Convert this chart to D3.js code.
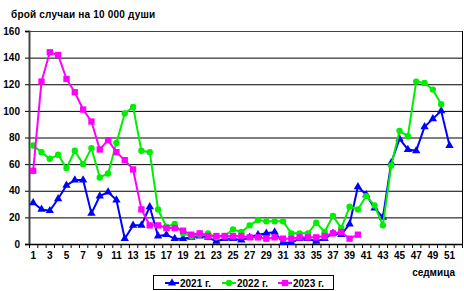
<!DOCTYPE html>
<html>
<head>
<meta charset="utf-8">
<script src="https://cdn.jsdelivr.net/npm/d3@7"></script>
<style>
  body { margin: 0; background: #fff; }
  text { font-family: "Liberation Sans", Arial, sans-serif; font-weight: bold; font-size: 10px; fill: #000; }
</style>
</head>
<body>
<svg id="chart" width="464" height="291"></svg>
<script>
// weekly incidence per 10 000 people
const weeks = d3.range(1, 53);
const yTicks = [0, 20, 40, 60, 80, 100, 120, 140, 160];

const cases2021 = [31, 26, 25, 34, 44, 48, 48, 23, 36, 39,
                   33, 4, 14, 14, 28, 6, 7, 4, 4, 5,
                   6, 5, 2, 4, 4, 3, 5, 7, 8, 9,
                   1, 1, 4, 4, 2, 4, 8, 7, 15, 43,
                   37, 27, 20, 61, 79, 71, 70, 88, 94, 100, 74];
const cases2022 = [74, 69, 64, 67, 57, 70, 60, 72, 50, 53,
                   76, 98, 103, 70, 69, 26, 13, 15, 8, 6,
                   7, 8, 5, 6, 11, 9, 14, 18, 17, 17,
                   17, 8, 8, 8, 16, 9, 21, 12, 28, 26,
                   36, 29, 14, 59, 85, 81, 122, 121, 116, 105];
const cases2023 = [55, 122, 144, 142, 124, 114, 101, 92, 71, 78,
                   69, 63, 56, 26, 14, 14, 12, 12, 10, 7,
                   8, 6, 6, 6, 6, 6, 5, 5, 4, 5,
                   4, 4, 5, 5, 5, 6, 8, 9, 4, 7];

const seriesNames = ['2021 г.', '2022 г.', '2023 г.'];
const seriesColors = ['#0000ff', '#00ee00', '#ff00ff'];
const seriesShapes = [d3.symbolTriangle, d3.symbolCircle, d3.symbolSquare];
const seriesSizes = [30, 32, 40];
const seriesValues = [cases2021, cases2022, cases2023];

const svg = d3.select('#chart');
const plotLeft = 29, plotRight = 462, plotTop = 31, plotBottom = 244;

const x = d3.scaleBand().domain(weeks).range([plotLeft, plotRight]);
const y = d3.scaleLinear().domain([0, 160]).range([plotBottom, plotTop]);

// gridlines
svg.append('g').selectAll('line').data(yTicks.slice(1)).enter().append('line')
    .attr('x1', plotLeft).attr('x2', plotRight)
    .attr('y1', d => y(d) + 0.5).attr('y2', d => y(d) + 0.5)
    .attr('stroke', d => d === 160 ? '#444' : '#000').attr('stroke-width', 1);

// right border
svg.append('line').attr('x1', plotRight + 0.5).attr('x2', plotRight + 0.5)
    .attr('y1', plotTop).attr('y2', plotBottom).attr('stroke', '#000');

// y axis
const yAxis = svg.append('g').attr('transform', `translate(${plotLeft},0)`)
    .call(d3.axisLeft(y).tickValues(yTicks).tickSize(4).tickPadding(5));
yAxis.select('.domain').attr('stroke', '#444').attr('stroke-width', 2);
yAxis.selectAll('.tick line').attr('stroke', '#000');
yAxis.attr('font-size', null).attr('font-family', null);

// x axis: ticks between weeks, labels on odd weeks
const xg = svg.append('g').attr('transform', `translate(0,${plotBottom})`);
xg.append('line').attr('x1', plotLeft).attr('x2', plotRight).attr('y1', 0.5).attr('y2', 0.5)
    .attr('stroke', '#000').attr('stroke-width', 1.5);
xg.selectAll('.tk').data(weeks.concat([53])).enter().append('line')
    .attr('x1', d => (d === 53 ? plotRight : x(d)) + 0.5)
    .attr('x2', d => (d === 53 ? plotRight : x(d)) + 0.5)
    .attr('y1', 0).attr('y2', 4).attr('stroke', '#000');
xg.selectAll('.lb').data(weeks.filter(d => d % 2 === 1)).enter().append('text')
    .attr('x', d => x(d) + x.bandwidth() / 2).attr('y', 15)
    .attr('text-anchor', 'middle').text(d => d);

// series
seriesValues.forEach((vals, i) => {
    const pts = vals.map((v, j) => [x(weeks[j]) + x.bandwidth() / 2, y(v)]);
    svg.append('path').attr('d', d3.line()(pts))
        .attr('fill', 'none').attr('stroke', seriesColors[i]).attr('stroke-width', 2);
    svg.append('g').selectAll('path').data(pts).enter().append('path')
        .attr('d', d3.symbol().type(seriesShapes[i]).size(seriesSizes[i]))
        .attr('transform', d => `translate(${d[0]},${d[1]})`)
        .attr('fill', seriesColors[i]);
});

// titles
svg.append('text').attr('x', 11).attr('y', 18).attr('letter-spacing', 0.2)
    .text('брой случаи на 10 000 души');
svg.append('text').attr('x', 455).attr('y', 276).attr('text-anchor', 'end').text('седмица');

// legend
const lg = svg.append('g');
lg.append('rect').attr('x', 153.5).attr('y', 275.5).attr('width', 180).attr('height', 14)
    .attr('fill', '#fff').attr('stroke', '#000');
const legendX = [165, 222, 278];
seriesNames.forEach((name, i) => {
    const g = lg.append('g').attr('transform', `translate(${legendX[i]},283)`);
    g.append('line').attr('x1', 0).attr('x2', 14).attr('stroke', seriesColors[i]).attr('stroke-width', 2);
    g.append('path').attr('d', d3.symbol().type(seriesShapes[i]).size(seriesSizes[i]))
        .attr('transform', 'translate(7,0)').attr('fill', seriesColors[i]);
    g.append('text').attr('x', 15).attr('y', 4).text(name);
});
</script>
</body>
</html>
